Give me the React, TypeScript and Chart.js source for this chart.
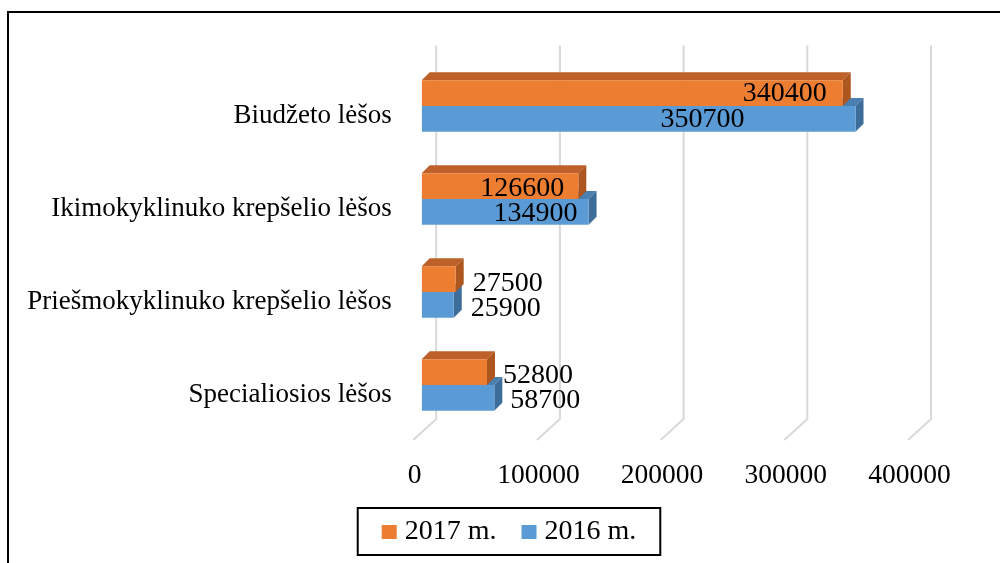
import { useEffect, useRef } from "react";
import { Chart, registerables } from "chart.js";

Chart.register(...registerables);

const categories = [
  "Biudžeto lėšos",
  "Ikimokyklinuko krepšelio lėšos",
  "Priešmokyklinuko krepšelio lėšos",
  "Specialiosios lėšos",
];
const values2017 = [340400, 126600, 27500, 52800];
const values2016 = [350700, 134900, 25900, 58700];
const seriesNames = ["2017 m.", "2016 m."];
const xTickValues = [0, 100000, 200000, 300000, 400000];

const FONT = "'Liberation Serif', 'Times New Roman', serif";
const FRONT_COLORS = ["#ED7D31", "#5B9BD5"];
const TOP_COLORS = ["#bd6029", "#4a7fb0"];
const SIDE_COLORS = ["#ad561f", "#3d6d9b"];
const DEPTH = 8;

// label placement (offset from bar end; negative = inside, right aligned)
const LABEL_DX = [
  [-16, -14, 17, 16],
  [-111, -11, 17, 16],
];
const LABEL_DY = [
  [0.5, 2, 4, 3.5],
  [0.5, 1.5, 4, 3],
];

const excel3d = {
  id: "excel3d",
  beforeDatasetsDraw(chart: any) {
    const ctx = chart.ctx;
    const xs = chart.scales.x;
    const area = chart.chartArea;
    ctx.save();
    ctx.strokeStyle = "#d9d9d9";
    ctx.lineWidth = 2;
    xTickValues.forEach((v) => {
      const p = xs.getPixelForValue(v);
      ctx.beginPath();
      ctx.moveTo(p + 14.5, area.top - 14);
      ctx.lineTo(p + 14.5, area.bottom - 12.5);
      ctx.lineTo(p - 8.5, area.bottom + 8.5);
      ctx.stroke();
    });
    for (const di of [1, 0]) {
      const meta = chart.getDatasetMeta(di);
      meta.data.forEach((el: any) => {
        const { x, y, base, height } = el.getProps(["x", "y", "base", "height"], true);
        const top = y - height / 2;
        const bottom = y + height / 2;
        ctx.fillStyle = TOP_COLORS[di];
        ctx.beginPath();
        ctx.moveTo(base, top);
        ctx.lineTo(base + DEPTH, top - DEPTH);
        ctx.lineTo(x + DEPTH, top - DEPTH);
        ctx.lineTo(x, top);
        ctx.closePath();
        ctx.fill();
        ctx.fillStyle = SIDE_COLORS[di];
        ctx.beginPath();
        ctx.moveTo(x, top);
        ctx.lineTo(x + DEPTH, top - DEPTH);
        ctx.lineTo(x + DEPTH, bottom - DEPTH);
        ctx.lineTo(x, bottom);
        ctx.closePath();
        ctx.fill();
      });
    }
    ctx.restore();
  },
  afterDatasetsDraw(chart: any) {
    const ctx = chart.ctx;
    ctx.save();
    ctx.font = `28px ${FONT}`;
    ctx.fillStyle = "#000";
    ctx.textBaseline = "middle";
    [0, 1].forEach((di) => {
      const meta = chart.getDatasetMeta(di);
      const vals = chart.data.datasets[di].data;
      meta.data.forEach((el: any, i: number) => {
        const { x, y } = el.getProps(["x", "y"], true);
        const dx = LABEL_DX[di][i];
        ctx.textAlign = dx < 0 ? "right" : "left";
        ctx.fillText(String(vals[i]), x + dx, y + LABEL_DY[di][i]);
      });
    });
    ctx.restore();
  },
  afterDraw(chart: any) {
    const ctx = chart.ctx;
    ctx.save();
    ctx.font = `28px ${FONT}`;
    const sq = 15;
    const gapSq = 8;
    const gapItem = 25;
    const padX = 24;
    const widths = seriesNames.map((n) => ctx.measureText(n).width);
    const total =
      widths.reduce((a, w) => a + sq + gapSq + w, 0) + gapItem * (seriesNames.length - 1);
    const cx = 509;
    const boxTop = 508;
    const boxH = 47;
    const boxW = total + 2 * padX;
    ctx.lineWidth = 2;
    ctx.strokeStyle = "#000";
    ctx.strokeRect(cx - boxW / 2, boxTop, boxW, boxH);
    const cy = boxTop + boxH / 2 + 0.5;
    let x = cx - total / 2;
    ctx.textBaseline = "middle";
    ctx.textAlign = "left";
    seriesNames.forEach((n, i) => {
      ctx.fillStyle = FRONT_COLORS[i];
      ctx.fillRect(x, cy - 7, sq, 14);
      x += sq + gapSq;
      ctx.fillStyle = "#000";
      ctx.fillText(n, x, cy);
      x += widths[i] + gapItem;
    });
    ctx.restore();
  },
};

export default function App() {
  const ref = useRef<HTMLCanvasElement>(null);
  useEffect(() => {
    if (!ref.current) return;
    const chart = new Chart(ref.current, {
      type: "bar",
      data: {
        labels: categories,
        datasets: [
          { label: seriesNames[0], data: values2017, backgroundColor: FRONT_COLORS[0] },
          { label: seriesNames[1], data: values2016, backgroundColor: FRONT_COLORS[1] },
        ],
      },
      options: {
        indexAxis: "y",
        responsive: false,
        animation: false,
        datasets: { bar: { categoryPercentage: 0.553, barPercentage: 1 } },
        layout: { padding: { left: 0, top: 59.5, right: 83.5, bottom: 0 } },
        plugins: { legend: { display: false }, tooltip: { enabled: false } },
        scales: {
          x: {
            min: 0,
            max: 400000,
            grid: { display: false, drawTicks: false },
            border: { display: false },
            afterFit: (s: any) => {
              s.height = 131.5;
            },
            afterBuildTicks: (s: any) => {
              s.ticks = xTickValues.map((v) => ({ value: v }));
            },
            ticks: {
              color: "#000",
              font: { family: FONT, size: 27.5 },
              padding: 28,
              labelOffset: -7,
              maxRotation: 0,
              autoSkip: false,
              callback: (v: any) => String(v),
            },
          },
          y: {
            grid: { display: false, drawTicks: false },
            border: { display: false },
            afterFit: (s: any) => {
              s.width = 421.7;
            },
            ticks: {
              color: "#000",
              font: { family: FONT, size: 27 },
              padding: 30,
              labelOffset: 9.5,
            },
          },
        },
      },
      plugins: [excel3d],
    } as any);
    return () => chart.destroy();
  }, []);
  return (
    <div
      style={{
        position: "fixed",
        left: 0,
        top: 0,
        width: 1000,
        height: 563,
        overflow: "hidden",
        background: "#fff",
      }}
    >
      <div
        style={{
          position: "absolute",
          left: 7,
          top: 11,
          width: 1100,
          height: 700,
          borderLeft: "2px solid #000",
          borderTop: "2px solid #000",
        }}
      />
      <canvas
        ref={ref}
        width={1000}
        height={563}
        style={{ position: "absolute", left: 0, top: 0, width: 1000, height: 563 }}
      />
    </div>
  );
}
